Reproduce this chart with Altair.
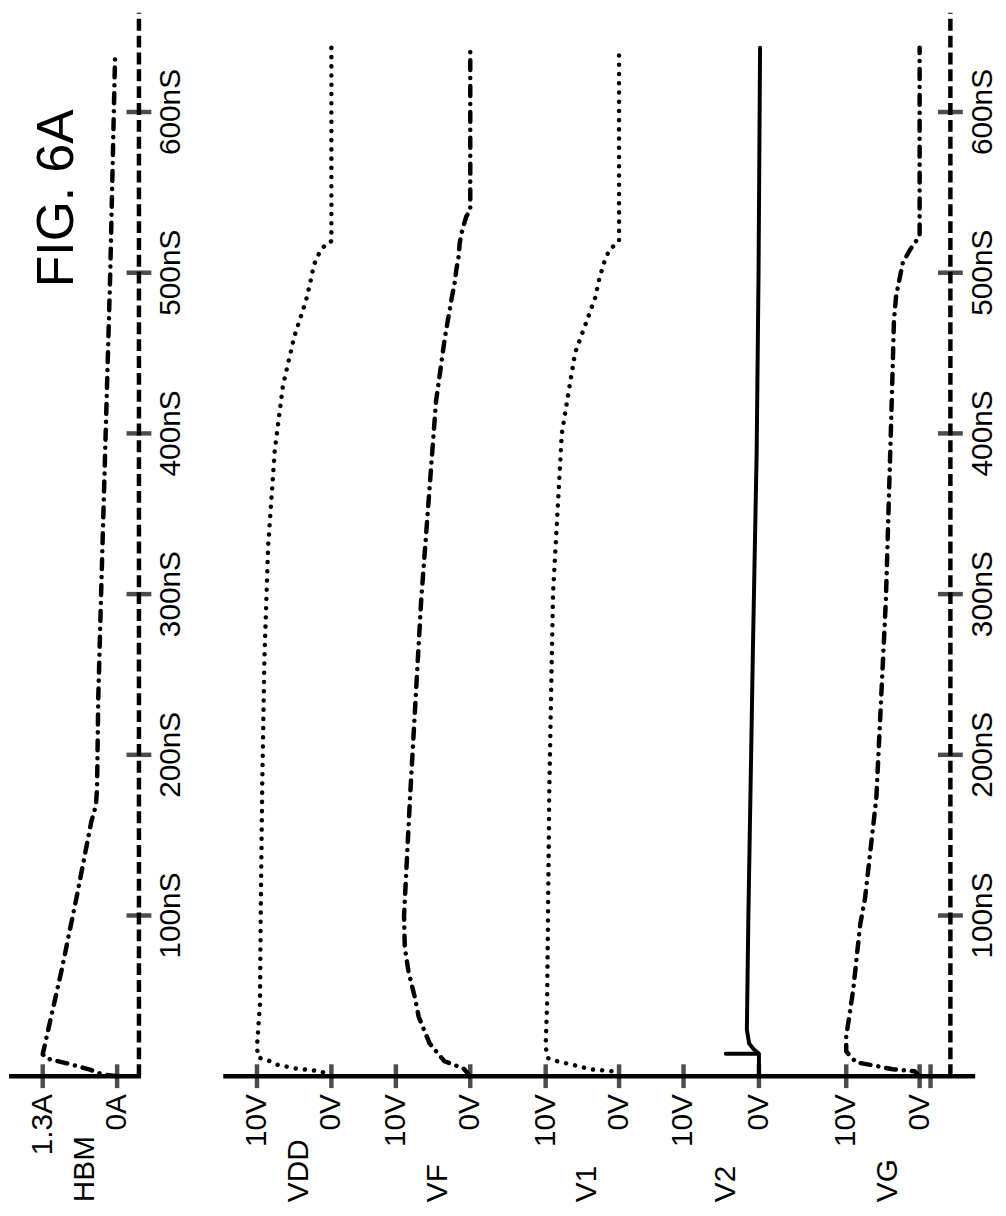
import altair as alt
import pandas as pd

FONT = "Liberation Sans"

# ---------------- data ----------------
SERIES = ["HBM", "VDD", "VF", "V1", "V2", "VG"]
FULL_LABELS = ["1.3A", "10V", "10V", "10V", "10V", "10V"]
ZERO_LABELS = ["0A", "0V", "0V", "0V", "0V", "0V"]
FULL_VALUES = [1.3, 10, 10, 10, 10, 10]

TIME_TICKS = [100, 200, 300, 400, 500, 600]
TIME_LABELS = ["100nS", "200nS", "300nS", "400nS", "500nS", "600nS"]

HBM_T = [0, 1.2, 4.3, 8, 11, 13.6, 66, 111, 158.6, 168.5, 180, 234.6, 300, 400, 500, 636]
HBM_I = [0, 0.26, 0.49, 0.88, 1.23, 1.3, 0.97, 0.71, 0.45, 0.37, 0.35, 0.33, 0.28, 0.2, 0.12, 0.035]

VDD_T = [0, 3.1, 4.9, 7.4, 9.9, 11.7, 18.5, 45, 100, 180, 260, 330, 390, 430, 460, 482.5,
         493.8, 504, 509.3, 514.4, 518.5, 519.6, 640]
VDD_V = [0, 1.47, 4.93, 7.47, 8.53, 9.87, 10, 9.6, 9.5, 9.3, 9.0, 8.5, 7.6, 6.5, 5.0, 3.42,
         2.84, 2.4, 2.0, 1.33, 0.62, 0, 0]

VF_T = [0, 4.9, 9.3, 20.4, 37, 49.4, 65, 80, 100, 173, 296, 420, 460, 485.6, 493.8, 502,
        510.3, 518.5, 526.7, 535, 539, 639]
VF_V = [0, 0.93, 3.47, 5.47, 6.93, 7.47, 8.3, 8.8, 8.9, 8.1, 6.6, 4.6, 3.4, 2.44, 2.09, 1.87,
        1.56, 1.42, 1.07, 0.53, 0, 0]

V1_T = [0, 3.1, 4.3, 6.2, 9.3, 11.3, 18.5, 45, 180, 300, 400, 450, 484.6, 489.7, 496.9, 503,
        508.2, 514.4, 519.5, 637]
V1_V = [0, 0.95, 3.9, 5.5, 8.4, 9.7, 10, 9.8, 9.5, 9.0, 7.8, 6.0, 3.24, 3.0, 2.66, 2.25,
        1.9, 1.3, 0, 0]

V2_T = [0, 14, 14, 14, 16.7, 20.4, 29, 100, 265, 389, 500, 640]
V2_V = [0, 0, 4.4, 0, 0.66, 1.3, 1.6, 1.4, 0.8, 0.3, 0.05, -0.15]

VG_T = [0, 3.1, 4.3, 6.8, 8.6, 15.4, 24.7, 53.7, 94.4, 111, 173, 296, 420, 470, 485.8, 506, 514,
        522.8, 640]
VG_V = [0, 0.68, 3.65, 6.35, 8.65, 10, 10, 9.05, 8.1, 7.43, 5.9, 4.6, 3.8, 3.5, 3.2, 2.3, 1.35,
        0, 0]

CURVES = {
    "HBM": (HBM_T, HBM_I),
    "VDD": (VDD_T, VDD_V),
    "VF": (VF_T, VF_V),
    "V1": (V1_T, V1_V),
    "V2": (V2_T, V2_V),
    "VG": (VG_T, VG_V),
}

# ---------------- layout (page pixels, rotated figure) ----------------
W, H = 998, 1200
PX_PER_NS = 1.62
T0_Y = 1080                      # page y of t = 0
PANEL_ZERO_X = [118, 334, 474, 624, 765, 927]
PANEL_FULL_X = [43, 259, 399, 550, 689, 853]
AXIS_SEGMENTS = [(9, 142), (225, 983)]
TIME_AXIS_X = [140, 958]
TIME_LABEL_X = [172, 991]
BREAK_GAP = 11
TICK_LABEL_Y = 1098
NAME_Y = 1207
NAME_SHIFT = 5

T_MIN = -(8 + H - T0_Y) / PX_PER_NS
T_MAX = T_MIN + H / PX_PER_NS

xs = alt.Scale(domain=[8, 8 + W], nice=False, zero=False)
ys = alt.Scale(domain=[T_MIN, T_MAX], nice=False, zero=False)


def to_x(i, v):
    z, f = PANEL_ZERO_X[i], PANEL_FULL_X[i]
    return z + (f - z) * v / FULL_VALUES[i]


rows = []
for i, s in enumerate(SERIES):
    ts, vs = CURVES[s]
    for k, (t, v) in enumerate(zip(ts, vs)):
        rows.append({"series": s, "idx": k, "t": t, "v": v, "x": to_x(i, v)})
curve_df = pd.DataFrame(rows)

X = alt.X("x:Q", scale=xs, axis=None)
Y = alt.Y("t:Q", scale=ys, axis=None)

DOTTED = [0.1, 9.2]
DASHDOT = [10, 8, 0.1, 8]
STYLE = {"HBM": DASHDOT, "VDD": DOTTED, "VF": DASHDOT, "V1": DOTTED, "V2": None, "VG": DASHDOT}

layers = []
for s in SERIES:
    kw = dict(color="black", strokeWidth=4.5, strokeCap="round", strokeJoin="round")
    if STYLE[s] is not None:
        kw["strokeDash"] = STYLE[s]
    else:
        kw["strokeWidth"] = 4
    layers.append(
        alt.Chart(curve_df[curve_df.series == s]).mark_line(**kw).encode(
            x=X, y=Y, order="idx:Q"
        )
    )

# horizontal (value) axis lines
axis_df = pd.DataFrame({"x": [a for a, b in AXIS_SEGMENTS], "x2": [b for a, b in AXIS_SEGMENTS], "t": [0, 0]})
layers.append(
    alt.Chart(axis_df).mark_rule(color="black", strokeWidth=4.5).encode(x=X, x2="x2:Q", y=Y)
)

# value ticks and labels
tick_rows, name_rows = [], []
for i, s in enumerate(SERIES):
    tick_rows.append({"x": to_x(i, FULL_VALUES[i]), "t": 0, "label": FULL_LABELS[i]})
    tick_rows.append({"x": to_x(i, 0), "t": 0, "label": ZERO_LABELS[i]})
    name_rows.append({"x": (to_x(i, 0) + to_x(i, FULL_VALUES[i])) / 2 + NAME_SHIFT, "label": s})
tick_df = pd.DataFrame(tick_rows)
name_df = pd.DataFrame(name_rows)
break_df = pd.DataFrame({"x": [to_x(SERIES.index("VG"), 0) + BREAK_GAP], "t": [0]})

layers.append(
    alt.Chart(tick_df).mark_tick(orient="vertical", size=24, thickness=4.5, color="black").encode(x=X, y=Y)
)
layers.append(
    alt.Chart(break_df).mark_tick(orient="vertical", size=24, thickness=4.5, color="black").encode(x=X, y=Y)
)
layers.append(
    alt.Chart(tick_df).mark_text(angle=270, align="right", baseline="middle", fontSize=30, font=FONT,
                                 color="black").encode(x=X, y=alt.value(TICK_LABEL_Y - 8), text="label:N")
)
layers.append(
    alt.Chart(name_df).mark_text(angle=270, align="left", baseline="middle", fontSize=30, font=FONT,
                                 color="black").encode(x=X, y=alt.value(NAME_Y - 8), text="label:N")
)

# time axes (dashed) with ticks and labels
taxis_df = pd.DataFrame({"x": TIME_AXIS_X, "t": [0, 0], "t2": [T_MAX, T_MAX]})
layers.append(
    alt.Chart(taxis_df).mark_rule(color="black", strokeWidth=4.5, strokeDash=[12, 5]).encode(
        x=X, y=Y, y2="t2:Q")
)
tt_rows, tl_rows = [], []
for ax, lx in zip(TIME_AXIS_X, TIME_LABEL_X):
    for t, lab in zip(TIME_TICKS, TIME_LABELS):
        tt_rows.append({"x": ax, "t": t})
        tl_rows.append({"x": lx, "t": t, "label": lab})
layers.append(
    alt.Chart(pd.DataFrame(tt_rows)).mark_tick(orient="horizontal", size=25, thickness=4.5,
                                                color="black").encode(x=X, y=Y)
)
layers.append(
    alt.Chart(pd.DataFrame(tl_rows)).mark_text(angle=270, align="center", baseline="middle", fontSize=30,
                                               font=FONT, color="black").encode(x=X, y=Y, text="label:N")
)

# figure caption
fig_df = pd.DataFrame({"x": [58], "label": ["FIG. 6A"]})
layers.append(
    alt.Chart(fig_df).mark_text(angle=270, align="center", baseline="middle", fontSize=52, font=FONT,
                                color="black").encode(x=X, y=alt.value(195 - 8), text="label:N")
)

chart = alt.layer(*layers).properties(
    width=W, height=H, padding=0, autosize=alt.AutoSizeParams(type="none"), background="white"
).configure_view(stroke=None)

chart.save("out.html", embed_options={"renderer": "svg", "actions": False})
